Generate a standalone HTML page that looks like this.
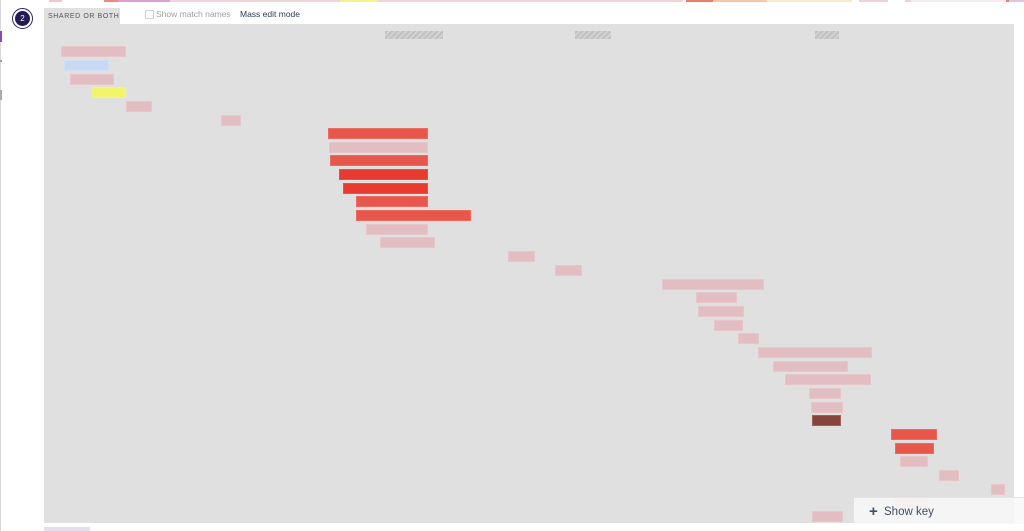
<!DOCTYPE html>
<html><head><meta charset="utf-8"><style>
html,body{margin:0;padding:0;background:#fff;width:1024px;height:531px;overflow:hidden;position:relative;font-family:"Liberation Sans",sans-serif}
.a{position:absolute}
.b{position:absolute;height:10px;box-sizing:content-box}
.p{background:#e2bdc1;border:1px solid #e6c6c9;height:9px}
.r{background:#e8574b;border:1px solid #ec6a5f;height:9px}
.rr{background:#e63b2e;border:1px solid #ea5145;height:9px}
.bl{background:#c9d9f4;border:1px solid #d3e0f4;height:9px}
.y{background:#f0f56a;border:1px solid #f2f586;height:9px}
.d{background:#86443d;border:1px solid #a0605a;height:9px}
.h{position:absolute;height:8px;background:repeating-linear-gradient(135deg,#c2c2c2 0 2.5px,#d6d6d6 2.5px 4px)}
.s{position:absolute;top:0;height:2px}
</style></head><body>
<!-- top strip -->
<div class="s" style="left:49px;width:13px;background:#f0c8cc"></div>
<div class="s" style="left:104px;width:14px;background:#ee8a7c"></div>
<div class="s" style="left:118px;width:52px;background:#dca0dc"></div>
<div class="s" style="left:170px;width:170px;background:#f0d4d8"></div>
<div class="s" style="left:340px;width:38px;background:#f4f48a"></div>
<div class="s" style="left:378px;width:305px;background:#f0d4d8"></div>
<div class="s" style="left:686px;width:27px;background:#ee7a6c"></div>
<div class="s" style="left:713px;width:54px;background:#f6c8a8"></div>
<div class="s" style="left:767px;width:85px;background:#f8ecc8"></div>
<div class="s" style="left:859px;width:29px;background:#f0d0d4"></div>
<div class="s" style="left:905px;width:6px;background:#f0d0d4"></div>
<div class="s" style="left:911px;width:95px;background:#f8eaf0"></div>
<div class="s" style="left:1006px;width:3px;background:#ee7a6c"></div>
<div class="s" style="left:1009px;width:15px;background:#d8c8e8"></div>
<!-- left edge -->
<div class="a" style="left:0;top:0;width:1px;height:531px;background:#d8d8d8"></div>
<div class="a" style="left:0;top:31px;width:2px;height:11px;background:#8a4ab0"></div>
<div class="a" style="left:0;top:60px;width:2px;height:2px;background:#999"></div>
<div class="a" style="left:0;top:90px;width:2px;height:10px;background:#aaa"></div>
<!-- circle -->
<div class="a" style="left:12px;top:8px;width:19px;height:19px;border-radius:50%;border:1px solid #2a2460;background:#fff"></div>
<div class="a" style="left:15px;top:11px;width:15px;height:15px;border-radius:50%;background:#221b55;color:#fff;font-size:8px;line-height:15px;text-align:center">2</div>
<!-- tab -->
<div class="a" style="left:44px;top:8px;width:76px;height:17px;background:#e0e0e0"></div>
<div class="a" style="left:48px;top:8px;color:#555;font-size:7px;letter-spacing:0.6px;line-height:17px;white-space:nowrap">SHARED OR BOTH</div>
<div class="a" style="left:145px;top:10px;width:7px;height:7px;border:1px solid #d0d0d0;border-radius:1px;background:#fff"></div>
<div class="a" style="left:156px;top:9px;font-size:8.5px;color:#a0a0a0;line-height:10px">Show match names</div>
<div class="a" style="left:240px;top:9px;font-size:8.5px;color:#2e3e55;line-height:10px">Mass edit mode</div>
<!-- chart -->
<div class="a" style="left:44px;top:24px;width:970px;height:499px;background:#e0e0e0"></div>
<div class="h" style="left:385px;top:31px;width:58px"></div>
<div class="h" style="left:575px;top:31px;width:36px"></div>
<div class="h" style="left:815px;top:31px;width:24px"></div>

<div class="b p" style="left:61px;top:46px;width:63px"></div>
<div class="b bl" style="left:64px;top:60px;width:43px"></div>
<div class="b p" style="left:70px;top:74px;width:42px"></div>
<div class="b y" style="left:92px;top:87px;width:32px"></div>
<div class="b p" style="left:126px;top:101px;width:24px"></div>
<div class="b p" style="left:221px;top:115px;width:18px"></div>
<div class="b r" style="left:328px;top:128px;width:98px"></div>
<div class="b p" style="left:329px;top:142px;width:97px"></div>
<div class="b r" style="left:330px;top:155px;width:96px"></div>
<div class="b rr" style="left:339px;top:169px;width:87px"></div>
<div class="b rr" style="left:343px;top:183px;width:83px"></div>
<div class="b r" style="left:356px;top:196px;width:70px"></div>
<div class="b r" style="left:356px;top:210px;width:113px"></div>
<div class="b p" style="left:366px;top:224px;width:60px"></div>
<div class="b p" style="left:380px;top:237px;width:53px"></div>
<div class="b p" style="left:508px;top:251px;width:25px"></div>
<div class="b p" style="left:555px;top:265px;width:25px"></div>
<div class="b p" style="left:662px;top:279px;width:100px"></div>
<div class="b p" style="left:696px;top:292px;width:39px"></div>
<div class="b p" style="left:698px;top:306px;width:44px"></div>
<div class="b p" style="left:714px;top:320px;width:27px"></div>
<div class="b p" style="left:738px;top:333px;width:19px"></div>
<div class="b p" style="left:758px;top:347px;width:112px"></div>
<div class="b p" style="left:773px;top:361px;width:73px"></div>
<div class="b p" style="left:785px;top:374px;width:84px"></div>
<div class="b p" style="left:809px;top:388px;width:30px"></div>
<div class="b p" style="left:811px;top:402px;width:30px"></div>
<div class="b d" style="left:812px;top:415px;width:27px"></div>
<div class="b r" style="left:891px;top:429px;width:44px"></div>
<div class="b r" style="left:895px;top:443px;width:37px"></div>
<div class="b p" style="left:900px;top:456px;width:26px"></div>
<div class="b p" style="left:939px;top:470px;width:18px"></div>
<div class="b p" style="left:991px;top:484px;width:12px"></div>
<div class="b p" style="left:895px;top:497px;width:31px"></div>
<div class="b p" style="left:812px;top:511px;width:29px"></div>

<!-- show key panel -->
<div class="a" style="left:854px;top:497px;width:170px;height:26px;background:rgba(248,248,248,0.85);border-top:1px solid #e4e4e4"></div>
<div class="a" style="left:869px;top:504px;font-size:15px;font-weight:bold;color:#3d4f62;line-height:16px">+</div>
<div class="a" style="left:884px;top:505px;font-size:11.5px;color:#3d4f62;line-height:15px">Show key</div>

<div class="a" style="left:44px;top:527px;width:46px;height:4px;background:#dde3ee"></div>
</body></html>
